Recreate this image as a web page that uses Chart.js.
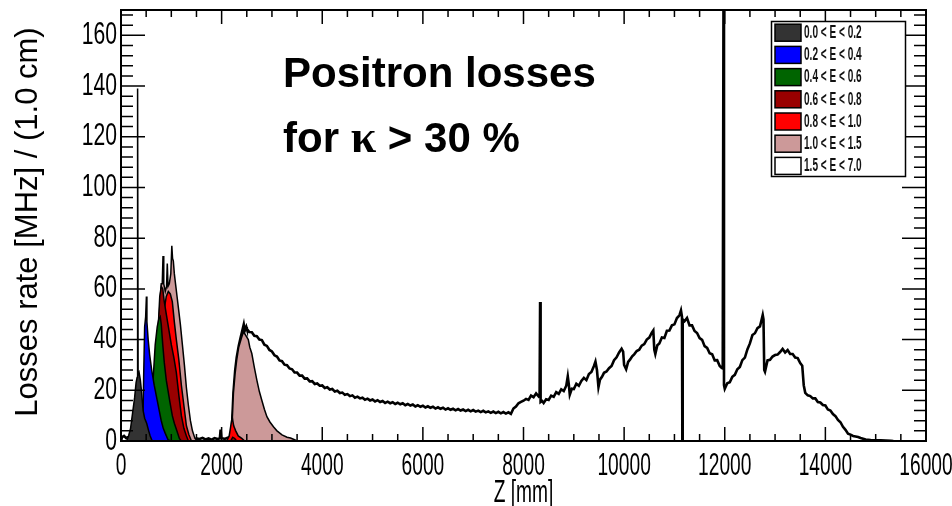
<!DOCTYPE html>
<html>
<head>
<meta charset="utf-8">
<script src="https://cdn.jsdelivr.net/npm/chart.js@4/dist/chart.umd.min.js"></script>
<style>
  html, body { margin: 0; padding: 0; background: #fff; }
  canvas { display: block; }
</style>
</head>
<body>
<canvas id="losses" width="952" height="506"></canvas>
<script>
// Positron losses along Z, stacked by energy band (E in GeV).
// Each band is given as the top edge of its layer in the stack: [Z (mm), rate (MHz / cm)].

const energyBands = ['0.0 < E < 0.2', '0.2 < E < 0.4', '0.4 < E < 0.6', '0.6 < E < 0.8',
                     '0.8 < E < 1.0', '1.0 < E < 1.5', '1.5 < E < 7.0'];

const xTickValues = [0, 2000, 4000, 6000, 8000, 10000, 12000, 14000, 16000];
const yTickValues = [0, 20, 40, 60, 80, 100, 120, 140, 160];

const topE00to02 = [[0,0],[110,0],[150,2],[190,5],[230,11],[270,17],[300,23],[320,25],[330,139],[340,26],
  [360,27],[385,24],[410,19],[440,12],[470,9],[510,7],[550,4],[580,2],[620,0],[700,0]];

const topE02to04 = [[400,0],[430,0],[450,25],[470,45],[490,49],[505,57],[515,47],[540,40],[570,34],[610,28],
  [660,22],[710,17],[760,12],[800,8],[840,5],[880,3],[935,0.5],[980,0]];

const topE04to06 = [[600,0],[640,25],[680,38],[720,45],[750,48],[780,49],[800,46],[830,38],[860,31],[900,24],
  [950,18],[975,15],[1020,10],[1060,7],[1110,4],[1160,1],[1200,0]];

const topE06to08 = [[700,0],[740,45],[770,57],[800,61],[830,60],[860,55],[900,50],[950,44],[1000,38],[1050,33],
  [1100,27],[1150,18],[1200,10],[1250,5],[1300,2],[1340,0],[2180,0],[2220,1.5],[2260,1],[2300,0]];

const topE08to10 = [[800,0],[860,52],[900,57],[940,59],[980,58],[1020,55],[1060,47],[1100,40],[1150,32],[1200,22],
  [1250,14],[1300,6],[1350,2.5],[1400,0],[2100,0],[2150,2],[2190,7],[2210,9.5],[2240,6],[2280,4],
  [2330,2],[2400,1],[2460,0]];

const topE10to15 = [[700,0],[760,50],[800,62],[820,62],[835,73],[850,62],[880,59],[905,61],[920,70],[935,61],
  [960,62],[990,66],[1010,77],[1025,72],[1040,71],[1060,66],[1090,61],[1120,56],[1150,51],[1180,46],
  [1220,38],[1260,30],[1300,21],[1340,14],[1380,8],[1420,4],[1470,1],[1520,0],[2150,0],[2200,3],
  [2235,19],[2270,27],[2300,32],[2340,37],[2370,39],[2400,41],[2435,43],[2470,42],[2500,41],[2530,40],
  [2560,37],[2600,34.5],[2650,29],[2700,24],[2750,19.5],[2800,16],[2850,12.5],[2900,9.6],[2960,7.5],[3030,5.6],
  [3100,4],[3200,2.4],[3300,1.5],[3370,1.2],[3450,0.5],[3500,0]];

const topE15to70 = [[0,0],[20,1.5],[60,2],[100,1.2],[140,1.5],[180,0],[1460,0],[1500,1.0],[1560,0.8],[1620,1.2],
  [1680,0.6],[1740,1.0],[1800,0.5],[1860,1.1],[1920,0.8],[1965,1.0],[1980,4.5],[1995,1.2],[2060,0.8],[2120,1.3],
  [2160,1.5],[2200,3],[2235,19],[2270,28],[2300,33],[2340,37.5],[2380,41],[2410,43.5],[2440,46],[2460,43.5],
  [2490,45],[2500,44.3],[2550,43.0],[2600,42.9],[2650,41.5],[2700,41.3],[2750,40.0],[2800,39.8],[2850,38.0],[2900,37.5],
  [2950,35.9],[3000,35.3],[3050,33.8],[3100,33.3],[3150,31.8],[3200,31.5],[3250,30.1],[3300,29.9],[3350,28.6],[3400,28.3],
  [3450,27.0],[3500,27.0],[3550,25.8],[3600,25.8],[3650,24.6],[3700,24.7],[3750,23.5],[3800,23.6],[3850,22.5],[3900,22.7],
  [3950,21.8],[4000,21.9],[4050,20.9],[4100,21.2],[4150,20.3],[4200,20.5],[4250,19.5],[4300,19.8],[4350,18.9],[4400,19.1],
  [4450,18.2],[4500,18.5],[4550,17.7],[4600,18.0],[4650,17.1],[4700,17.5],[4750,16.8],[4800,17.1],[4850,16.3],[4900,16.7],
  [4950,16.0],[5000,16.4],[5050,15.6],[5100,16.1],[5150,15.4],[5200,15.8],[5250,15.0],[5300,15.5],[5350,14.9],[5400,15.3],
  [5450,14.6],[5500,15.1],[5550,14.5],[5600,14.9],[5650,14.1],[5700,14.6],[5750,14.0],[5800,14.4],[5850,13.6],[5900,14.1],
  [5950,13.5],[6000,13.9],[6050,13.2],[6100,13.7],[6150,13.1],[6200,13.5],[6250,12.8],[6300,13.3],[6350,12.7],[6400,13.1],
  [6450,12.4],[6500,12.9],[6550,12.3],[6600,12.7],[6650,12.1],[6700,12.6],[6750,12.0],[6800,12.4],[6850,11.8],[6900,12.3],
  [6950,11.7],[7000,12.2],[7050,11.6],[7100,12.0],[7150,11.4],[7200,11.9],[7250,11.3],[7300,11.7],[7350,11.1],[7400,11.6],
  [7450,11.0],[7500,11.5],[7550,10.9],[7600,11.4],[7650,10.8],[7700,11.3],[7750,10.7],[7800,12.8],[7850,13.6],[7900,14.9],
  [7950,15.4],[8000,15.9],[8050,16.6],[8100,16.2],[8150,17.9],[8200,17.3],[8250,18.8],[8300,17.6],[8320,18.2],[8330,54.8],
  [8340,15.4],[8370,15.8],[8400,15.0],[8450,16.5],[8500,16.2],[8550,17.9],[8600,17.4],[8650,19.3],[8700,18.6],[8750,20.4],
  [8800,19.7],[8850,21.8],[8880,25.5],[8900,22.4],[8920,18.3],[8960,20.6],[9000,20.5],[9050,22.6],[9100,21.8],[9150,23.7],
  [9200,24.9],[9250,24.0],[9300,26.4],[9350,27.2],[9400,29.6],[9430,31.3],[9460,28],[9490,21.3],[9520,24.2],[9560,25.3],
  [9600,26.9],[9650,27.4],[9700,28.7],[9750,29.6],[9800,31.9],[9850,33.0],[9900,34.9],[9950,36.4],[9980,35.3],[10000,30],
  [10040,28.3],[10080,31.2],[10120,32.2],[10160,33.4],[10200,34.2],[10250,35.5],[10300,36.0],[10350,37.6],[10400,38.2],[10450,40.0],
  [10500,40.8],[10550,42.7],[10580,43.6],[10600,36],[10620,34.3],[10660,37.8],[10700,38.5],[10750,40.8],[10800,40.6],[10850,43.5],
  [10900,43.6],[10950,45.6],[11000,46.0],[11050,48.5],[11100,49.6],[11130,51.5],[11150,49],[11157,0],[11164,48],[11200,47.2],
  [11250,48.5],[11300,45.6],[11350,45.6],[11400,43.4],[11450,42.6],[11500,40.6],[11550,39.9],[11600,37.4],[11650,36.7],[11700,34.6],
  [11750,34.2],[11800,31.8],[11850,31.9],[11900,29.6],[11940,28.8],[11960,28.6],[11975,175],[11985,22],[12000,20.6],[12050,22.8],
  [12100,23.2],[12150,25.3],[12200,26.1],[12250,28.3],[12300,29.2],[12350,31.9],[12400,32.9],[12450,36.1],[12500,38.5],[12550,41.8],
  [12600,42.5],[12650,44.5],[12700,45.2],[12730,47.6],[12755,49.7],[12770,48],[12785,28],[12800,27.3],[12850,31.8],[12900,32.0],
  [12950,33.3],[13000,33.9],[13050,34.1],[13100,35.1],[13150,36.3],[13200,34.9],[13250,35.9],[13300,34.3],[13350,34.3],[13400,32.9],
  [13450,32.7],[13500,30.7],[13540,29.7],[13570,22],[13600,19.0],[13650,18.0],[13700,17.7],[13750,16.8],[13800,16.8],[13850,15.4],
  [13900,15.2],[13950,14.2],[14000,14.0],[14050,12.4],[14100,12.0],[14150,10.6],[14200,9.8],[14250,8.3],[14300,7.4],[14350,5.6],
  [14400,4.4],[14450,2.9],[14500,2.5],[14550,2.0],[14600,1.8],[14650,1.6],[14700,1.2],[14750,0.9],[14800,0.6],[14900,0.4],
  [15000,0.3],[15100,0.3],[15200,0.2],[15300,0.1],[15350,0]];

const bandTops = [topE00to02, topE02to04, topE04to06, topE06to08, topE08to10, topE10to15, topE15to70];
const bandColours = ['#333333', '#0000ff', '#006400', '#990000', '#ff0000', '#cc9999', '#ffffff'];

const SANS = "'Liberation Sans', Arial, Helvetica, sans-serif";
const SERIF = "'Liberation Serif', 'Times New Roman', serif";

function drawText(ctx, text, x, y, o) {
  ctx.save();
  ctx.translate(x, y);
  if (o.rotate) ctx.rotate(o.rotate);
  ctx.scale(o.sx || 1, o.sy || 1);
  ctx.font = o.font;
  ctx.fillStyle = o.color || '#000';
  ctx.textAlign = o.align || 'left';
  ctx.textBaseline = o.baseline || 'alphabetic';
  ctx.fillText(text, 0, 0);
  ctx.restore();
}

const xLabelStyle = { font: '24px ' + SANS, sx: 0.8, sy: 1.3, color: '#000' };
const yLabelStyle = { font: '24px ' + SANS, sx: 0.88, sy: 1.3, color: '#000' };

// Frame with inward ticks on all four sides, axis labels, legend and caption
const rootStyleFrame = {
  id: 'rootStyleFrame',
  afterDatasetsDraw(chart) {
    const { ctx, chartArea: a, scales: { x, y } } = chart;
    ctx.save();
    ctx.strokeStyle = '#000';
    ctx.lineWidth = 1.5;
    ctx.beginPath();
    for (let v = 0; v <= x.max; v += 500) {
      const px = x.getPixelForValue(v);
      const len = v % 2000 === 0 ? 14 : 7;
      ctx.moveTo(px, a.bottom); ctx.lineTo(px, a.bottom - len);
      ctx.moveTo(px, a.top); ctx.lineTo(px, a.top + len);
    }
    for (let v = 0; v <= y.max; v += 4) {
      const py = y.getPixelForValue(v);
      const len = v % 20 === 0 ? 24 : 12;
      ctx.moveTo(a.left, py); ctx.lineTo(a.left + len, py);
      ctx.moveTo(a.right, py); ctx.lineTo(a.right - len, py);
    }
    ctx.stroke();
    ctx.lineWidth = 2;
    ctx.strokeRect(a.left, a.top, a.right - a.left, a.bottom - a.top);
    ctx.restore();
  },
  afterDraw(chart) {
    const { ctx, chartArea: a, scales: { x, y } } = chart;

    // tick labels
    y.ticks.forEach(t => drawText(ctx, String(t.value), a.left - 4, y.getPixelForValue(t.value),
      Object.assign({ align: 'right', baseline: 'middle' }, yLabelStyle)));
    x.ticks.forEach(t => drawText(ctx, String(t.value), x.getPixelForValue(t.value), a.bottom + 25,
      Object.assign({ align: 'center', baseline: 'middle' }, xLabelStyle)));

    // axis titles
    drawText(ctx, 'Z [mm]', (a.left + a.right) / 2, 493,
      Object.assign({ align: 'center', baseline: 'middle' }, xLabelStyle));
    drawText(ctx, 'Losses rate [MHz] / (1.0 cm)', 28, 222,
      { font: '31px ' + SANS, align: 'center', baseline: 'middle', rotate: -Math.PI / 2, color: '#000' });

    // legend
    const lx = 771.5, ly = 21.5, lw = 134, lh = 155;
    ctx.save();
    ctx.fillStyle = '#fff';
    ctx.fillRect(lx, ly, lw, lh);
    ctx.strokeStyle = '#000';
    ctx.lineWidth = 1.5;
    ctx.strokeRect(lx, ly, lw, lh);
    chart.data.datasets.forEach((ds, i) => {
      const cy = 32.7 + i * 22.2;
      ctx.fillStyle = ds.backgroundColor;
      ctx.fillRect(775, cy - 8.5, 26, 17);
      ctx.strokeRect(775, cy - 8.5, 26, 17);
      drawText(ctx, ds.label, 804, cy + 0.5,
        { font: 'bold 14px ' + SANS, sx: 0.72, sy: 1.25, baseline: 'middle', color: '#111' });
    });
    ctx.restore();

    // caption
    const bold = 'bold 42px ' + SANS;
    const kappa = 'bold 46px ' + SERIF;
    drawText(ctx, 'Positron losses', 283, 87, { font: bold });
    ctx.save();
    ctx.font = bold;
    const w1 = ctx.measureText('for ').width;
    ctx.font = kappa;
    const w2 = ctx.measureText('\u03BA').width;
    ctx.restore();
    drawText(ctx, 'for ', 283, 152, { font: bold });
    drawText(ctx, '\u03BA', 283 + w1, 152, { font: kappa });
    drawText(ctx, ' > 30 %', 283 + w1 + w2, 152, { font: bold });
  }
};

new Chart(document.getElementById('losses'), {
  type: 'line',
  data: {
    datasets: energyBands.map((label, i) => ({
      label,
      data: bandTops[i].map(([z, r]) => ({ x: z, y: r })),
      backgroundColor: bandColours[i],
      borderColor: '#000',
      borderWidth: i === energyBands.length - 1 ? 2.6 : 1.5,
      fill: 'origin',
      pointRadius: 0,
      tension: 0
    }))
  },
  options: {
    responsive: false,
    animation: false,
    events: [],
    layout: { padding: { top: 10, right: 26, left: 0, bottom: 0 } },
    scales: {
      x: {
        type: 'linear', min: 0, max: 16000,
        grid: { display: false, drawTicks: false }, border: { display: false },
        ticks: { display: false },
        afterBuildTicks: s => { s.ticks = xTickValues.map(v => ({ value: v })); },
        afterFit: s => { s.height = 65; s.paddingLeft = 0; s.paddingRight = 0; }
      },
      y: {
        type: 'linear', min: 0, max: 170,
        grid: { display: false, drawTicks: false }, border: { display: false },
        ticks: { display: false },
        afterBuildTicks: s => { s.ticks = yTickValues.map(v => ({ value: v })); },
        afterFit: s => { s.width = 121; s.paddingTop = 0; s.paddingBottom = 0; }
      }
    },
    plugins: { legend: { display: false }, tooltip: { enabled: false } }
  },
  plugins: [rootStyleFrame]
});
</script>
</body>
</html>
